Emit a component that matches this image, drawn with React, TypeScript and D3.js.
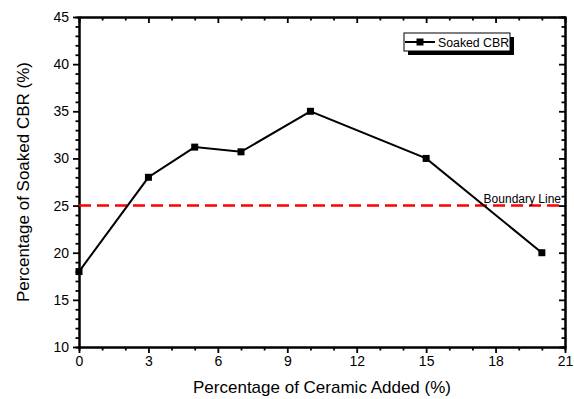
import { useEffect, useRef } from 'react';
import * as d3 from 'd3';

const ceramic = [0, 3, 5, 7, 10, 15, 20];
const soakedCbr = [18, 28, 31.2, 30.7, 35, 30, 20];
const boundaryValue = 25;
const xTicks = [0, 3, 6, 9, 12, 15, 18, 21];
const yTicks = [10, 15, 20, 25, 30, 35, 40, 45];
const seriesName = 'Soaked CBR';

const W = 574;
const H = 399;
const FONT = 'Liberation Sans, Arial, sans-serif';

export default function App() {
  const svgRef = useRef<SVGSVGElement>(null);

  useEffect(() => {
    if (!svgRef.current) return;
    const svg = d3.select(svgRef.current);
    svg.selectAll('*').remove();

    const margin = { left: 79, right: 9, top: 17, bottom: 52 };
    const innerW = W - margin.left - margin.right;
    const innerH = H - margin.top - margin.bottom;

    const x = d3.scaleLinear().domain([0, 21]).range([0, innerW]);
    const y = d3.scaleLinear().domain([10, 45]).range([innerH, 0]);

    const g = svg.append('g').attr('transform', `translate(${margin.left},${margin.top})`);

    const xMinor = d3.range(0, 22, 1).filter(v => !xTicks.includes(v));
    const yMinor = d3.range(10, 46, 1).filter(v => !yTicks.includes(v));

    // bottom axis (outward ticks)
    const bottom = g.append('g').attr('transform', `translate(0,${innerH})`);
    bottom.call(d3.axisBottom(x).tickValues(xTicks).tickSize(6).tickSizeOuter(0).tickPadding(3));
    bottom.append('g').call(d3.axisBottom(x).tickValues(xMinor).tickSize(3.5).tickFormat(() => ''));

    // left axis (outward ticks)
    const left = g.append('g');
    left.call(d3.axisLeft(y).tickValues(yTicks).tickSize(6).tickSizeOuter(0).tickPadding(4));
    left.append('g').call(d3.axisLeft(y).tickValues(yMinor).tickSize(3.5).tickFormat(() => ''));

    // top axis (inward ticks)
    const top = g.append('g');
    top.call(d3.axisBottom(x).tickValues(xTicks).tickSize(6).tickSizeOuter(0).tickFormat(() => ''));
    top.append('g').call(d3.axisBottom(x).tickValues(xMinor).tickSize(3.5).tickFormat(() => ''));

    // right axis (inward ticks)
    const right = g.append('g').attr('transform', `translate(${innerW},0)`);
    right.call(d3.axisLeft(y).tickValues(yTicks).tickSize(6).tickSizeOuter(0).tickFormat(() => ''));
    right.append('g').call(d3.axisLeft(y).tickValues(yMinor).tickSize(3.5).tickFormat(() => ''));

    g.selectAll('.domain').attr('stroke', '#000').attr('stroke-width', 2);
    g.selectAll('.tick line').attr('stroke', '#000').attr('stroke-width', 1.8);
    g.selectAll('.tick text')
      .attr('font-family', FONT)
      .attr('font-size', 14)
      .attr('fill', '#000');

    // boundary line
    g.append('line')
      .attr('x1', 0)
      .attr('x2', innerW)
      .attr('y1', y(boundaryValue))
      .attr('y2', y(boundaryValue))
      .attr('stroke', '#ff0000')
      .attr('stroke-width', 2.5)
      .attr('stroke-dasharray', '12,6');

    g.append('text')
      .attr('x', innerW - 4)
      .attr('y', y(boundaryValue) - 3)
      .attr('text-anchor', 'end')
      .attr('font-family', FONT)
      .attr('font-size', 12)
      .text('Boundary Line');

    // data line
    const line = d3.line<number>()
      .x((_, i) => x(ceramic[i]))
      .y(d => y(d));

    g.append('path')
      .datum(soakedCbr)
      .attr('d', line)
      .attr('fill', 'none')
      .attr('stroke', '#000')
      .attr('stroke-width', 2);

    g.selectAll('.pt')
      .data(soakedCbr)
      .enter().append('rect')
      .attr('x', (_, i) => x(ceramic[i]) - 3.5)
      .attr('y', d => y(d) - 3.5)
      .attr('width', 7)
      .attr('height', 7)
      .attr('fill', '#000');

    // legend
    const lg = svg.append('g').attr('transform', 'translate(404,33)');
    lg.append('rect').attr('x', 4).attr('y', 4).attr('width', 106).attr('height', 18).attr('fill', '#000');
    lg.append('rect').attr('x', 0).attr('y', 0).attr('width', 106).attr('height', 18)
      .attr('fill', '#fff').attr('stroke', '#000').attr('stroke-width', 1);
    lg.append('line').attr('x1', 1).attr('x2', 31).attr('y1', 9).attr('y2', 9)
      .attr('stroke', '#000').attr('stroke-width', 2);
    lg.append('rect').attr('x', 12.5).attr('y', 5.5).attr('width', 7).attr('height', 7).attr('fill', '#000');
    lg.append('text').attr('x', 34).attr('y', 13.5)
      .attr('font-family', FONT).attr('font-size', 12.3).text(seriesName);

    // axis titles
    svg.append('text')
      .attr('x', margin.left + innerW / 2)
      .attr('y', 393)
      .attr('text-anchor', 'middle')
      .attr('font-family', FONT)
      .attr('font-size', 17)
      .text('Percentage of Ceramic Added (%)');

    svg.append('text')
      .attr('transform', `translate(29,${margin.top + innerH / 2}) rotate(-90)`)
      .attr('text-anchor', 'middle')
      .attr('font-family', FONT)
      .attr('font-size', 17)
      .text('Percentage of Soaked CBR (%)');
  }, []);

  return (
    <svg
      ref={svgRef}
      width={W}
      height={H}
      style={{ position: 'absolute', left: 0, top: 0, background: '#fff' }}
    />
  );
}
